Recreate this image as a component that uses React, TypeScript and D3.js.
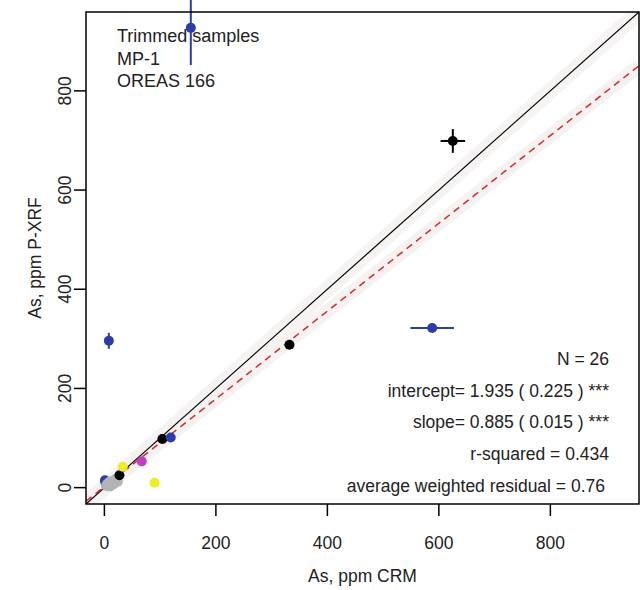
import React from "react";
import * as d3 from "d3";

// ---- data ----
const crmValues = [1, 2, 3, 11, 5, 6, 9, 12, 14, 15, 17, 18, 21, 20, 24, 27, 33, 90, 67, 104, 119, 8, 155, 332, 588, 625];
const xrfValues = [15, 10, 4, 3, 8, 3, 12, 6, 9, 14, 7, 10, 16, 18, 12, 25, 42, 10, 53, 98, 101, 296, 927, 288, 322, 699];
const crmErrors = [0, 0, 0, 0, 0, 0, 0, 0, 0, 0, 0, 0, 0, 0, 0, 0, 0, 0, 0, 0, 0, 0, 0, 0, 39, 22];
const xrfErrors = [0, 0, 0, 0, 0, 0, 0, 0, 0, 0, 0, 0, 0, 0, 0, 0, 0, 0, 0, 0, 0, 16, 75, 0, 0, 24];
const sampleGroups = [
  "CRM-B", "CRM-B", "CRM-L", "CRM-L", "CRM-G", "CRM-G", "CRM-G", "CRM-G", "CRM-G", "CRM-G",
  "CRM-G", "CRM-G", "CRM-G", "CRM-G", "CRM-G", "CRM-K", "CRM-Y", "CRM-Y", "CRM-M", "CRM-K",
  "CRM-B", "CRM-B", "CRM-B", "CRM-K", "CRM-B", "CRM-K",
];
const groupColors: Record<string, string> = {
  "CRM-B": "#2b3ea6",
  "CRM-L": "#9fb0cc",
  "CRM-G": "#b4b4b4",
  "CRM-K": "#000000",
  "CRM-Y": "#ecec2a",
  "CRM-M": "#c040c0",
};
const axisTicks = [0, 200, 400, 600, 800];
const axisDomain = [-33, 959];
const fitIntercept = 1.935;
const fitSlope = 0.885;
const legendLines = ["Trimmed samples", "MP-1", "OREAS 166"];
const statLines = [
  "N = 26",
  "intercept= 1.935 ( 0.225 ) ***",
  "slope= 0.885 ( 0.015 ) ***",
  "r-squared = 0.434",
  "average weighted residual = 0.76",
];
const xTitle = "As, ppm CRM";
const yTitle = "As, ppm P-XRF";

const W = 640;
const H = 590;
const left = 86, right = 639, top = 12, bottom = 504;
const FONT = "'Liberation Sans', Arial, sans-serif";
const TXT = "#222";

export default function App() {
  const x = d3.scaleLinear().domain(axisDomain).range([left, right]);
  const y = d3.scaleLinear().domain(axisDomain).range([bottom, top]);
  const [d0, d1] = axisDomain;

  const idx = d3.range(crmValues.length);

  return (
    <svg
      width={W}
      height={H}
      style={{ position: "absolute", left: 0, top: 0, background: "#fff" }}
      fontFamily={FONT}
    >
      <defs>
        <clipPath id="plotclip">
          <rect x={left} y={top} width={right - left} height={bottom - top} />
        </clipPath>
      </defs>
      <rect x={0} y={0} width={W} height={H} fill="#fff" />

      {/* reference lines */}
      <g clipPath="url(#plotclip)">
        <line x1={x(d0)} y1={y(d0)} x2={x(d1)} y2={y(d1)} stroke="#f6f3f3" strokeWidth={16} />
        <line
          x1={x(d0)} y1={y(fitIntercept + fitSlope * d0)}
          x2={x(d1)} y2={y(fitIntercept + fitSlope * d1)}
          stroke="#f7f2f2" strokeWidth={14}
        />
        <line x1={x(d0)} y1={y(d0)} x2={x(d1)} y2={y(d1)} stroke="#000" strokeWidth={1.2} />
        <line
          x1={x(d0)} y1={y(fitIntercept + fitSlope * d0)}
          x2={x(d1)} y2={y(fitIntercept + fitSlope * d1)}
          stroke="#d42a2a" strokeWidth={1.5} strokeDasharray="7,5"
        />
      </g>

      {/* error bars */}
      {idx.map((i) => {
        const c = groupColors[sampleGroups[i]];
        return (
          <g key={"e" + i}>
            {crmErrors[i] > 0 && (
              <line
                x1={x(crmValues[i] - crmErrors[i])} x2={x(crmValues[i] + crmErrors[i])}
                y1={y(xrfValues[i])} y2={y(xrfValues[i])}
                stroke={c} strokeWidth={2}
              />
            )}
            {xrfErrors[i] > 0 && (
              <line
                x1={x(crmValues[i])} x2={x(crmValues[i])}
                y1={y(xrfValues[i] - xrfErrors[i])} y2={y(xrfValues[i] + xrfErrors[i])}
                stroke={c} strokeWidth={2}
              />
            )}
          </g>
        );
      })}

      {/* points */}
      {idx.map((i) => (
        <circle
          key={"p" + i}
          cx={x(crmValues[i])}
          cy={y(xrfValues[i])}
          r={5}
          fill={groupColors[sampleGroups[i]]}
        />
      ))}

      {/* box */}
      <rect x={left} y={top} width={right - left} height={bottom - top} fill="none" stroke="#000" strokeWidth={1.5} />

      {/* x axis */}
      {axisTicks.map((t) => (
        <g key={"xt" + t}>
          <line x1={x(t)} x2={x(t)} y1={bottom} y2={bottom + 12} stroke="#000" strokeWidth={1.5} />
          <text x={x(t)} y={549} textAnchor="middle" fontSize={17.5} fill={TXT}>{t}</text>
        </g>
      ))}
      <text x={(left + right) / 2} y={582} textAnchor="middle" fontSize={17.5} fill={TXT}>{xTitle}</text>

      {/* y axis */}
      {axisTicks.map((t) => (
        <g key={"yt" + t}>
          <line x1={left - 12} x2={left} y1={y(t)} y2={y(t)} stroke="#000" strokeWidth={1.5} />
          <text
            transform={`translate(71,${y(t)}) rotate(-90)`}
            textAnchor="middle" fontSize={17.5} fill={TXT}
          >{t}</text>
        </g>
      ))}
      <text
        transform={`translate(41,${(top + bottom) / 2}) rotate(-90)`}
        textAnchor="middle" fontSize={17.5} fill={TXT}
      >{yTitle}</text>

      {/* legend text */}
      {legendLines.map((s, i) => (
        <text key={"l" + i} x={117} y={42 + i * 22.5} fontSize={18} fill={TXT}>{s}</text>
      ))}

      {/* statistics */}
      {statLines.map((s, i) => (
        <text key={"s" + i} x={i === 4 ? 605 : 609} y={365 + i * 31.7} textAnchor="end" fontSize={17.5} fill={TXT}>{s}</text>
      ))}
    </svg>
  );
}
